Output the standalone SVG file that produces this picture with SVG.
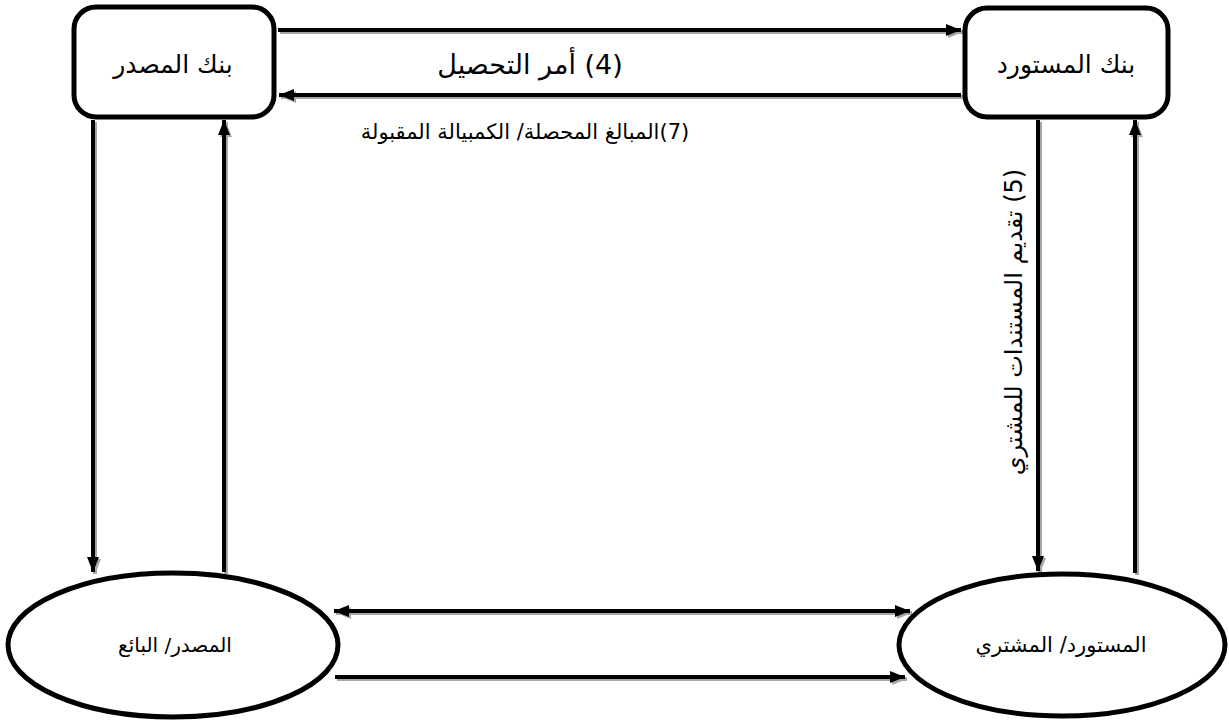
<svg xmlns="http://www.w3.org/2000/svg" width="1229" height="722" viewBox="0 0 1229 722">
  <style>
    .box { fill: #fff; stroke: #000; stroke-width: 5; }
    .lbl { font-family: "DejaVu Sans", "Liberation Serif", serif; font-size: 19px; fill: #000; text-anchor: middle; direction: rtl; unicode-bidi: embed; }
    .ln { stroke: #000; stroke-width: 4; fill: none; }
    .sh { stroke: #a6a6a6; stroke-width: 4; fill: none; }
  </style>
  <defs>
    <marker id="ah" viewBox="0 0 15 12" refX="15" refY="6" markerWidth="15" markerHeight="12" markerUnits="userSpaceOnUse" orient="auto-start-reverse">
      <path d="M0,0 L15,6 L0,12 Z" fill="#000"/>
    </marker>
    <marker id="ahs" viewBox="0 0 15 12" refX="15" refY="6" markerWidth="15" markerHeight="12" markerUnits="userSpaceOnUse" orient="auto-start-reverse">
      <path d="M0,0 L15,6 L0,12 Z" fill="#a6a6a6"/>
    </marker>
  </defs>
  <rect width="1229" height="722" fill="#fff"/>

  <!-- connectors: soft shadow copies first, then the black lines -->
  <g id="connectors">
    <g transform="translate(2,2)">
      <line class="sh" x1="278" y1="30" x2="961" y2="30" marker-end="url(#ahs)"/>
      <line class="sh" x1="961" y1="95" x2="279" y2="95" marker-end="url(#ahs)"/>
      <line class="sh" x1="93" y1="120" x2="93" y2="572" marker-end="url(#ahs)"/>
      <line class="sh" x1="224" y1="572" x2="224" y2="120" marker-end="url(#ahs)"/>
      <line class="sh" x1="1038" y1="120" x2="1038" y2="571" marker-end="url(#ahs)"/>
      <line class="sh" x1="1135" y1="573" x2="1135" y2="120" marker-end="url(#ahs)"/>
      <line class="sh" x1="334" y1="611" x2="910" y2="611" marker-start="url(#ahs)" marker-end="url(#ahs)"/>
      <line class="sh" x1="335" y1="677" x2="905" y2="677" marker-end="url(#ahs)"/>
    </g>
    <line class="ln" x1="278" y1="30" x2="961" y2="30" marker-end="url(#ah)"/>
    <line class="ln" x1="961" y1="95" x2="279" y2="95" marker-end="url(#ah)"/>
    <line class="ln" x1="93" y1="120" x2="93" y2="572" marker-end="url(#ah)"/>
    <line class="ln" x1="224" y1="572" x2="224" y2="120" marker-end="url(#ah)"/>
    <line class="ln" x1="1038" y1="120" x2="1038" y2="571" marker-end="url(#ah)"/>
    <line class="ln" x1="1135" y1="573" x2="1135" y2="120" marker-end="url(#ah)"/>
    <line class="ln" x1="334" y1="611" x2="910" y2="611" marker-start="url(#ah)" marker-end="url(#ah)"/>
    <line class="ln" x1="335" y1="677" x2="905" y2="677" marker-end="url(#ah)"/>

    <text class="lbl" x="530" y="74" style="font-size:27px">(4) أمر التحصيل</text>
    <text class="lbl" x="525" y="139" style="font-size:21px">(7)المبالغ المحصلة/ الكمبيالة المقبولة</text>
    <text class="lbl" transform="translate(1022,322) rotate(-90)" x="0" y="0" style="font-size:24px">(5) تقديم المستندات للمشتري</text>
  </g>

  <g id="exporter-bank">
    <rect class="box" x="74" y="7" width="200" height="110" rx="22" ry="22"/>
    <text class="lbl" x="173" y="73" style="font-size:25px">بنك المصدر</text>
  </g>

  <g id="importer-bank">
    <rect class="box" x="965" y="8" width="203" height="109" rx="22" ry="22"/>
    <text class="lbl" x="1066" y="73" style="font-size:25px">بنك المستورد</text>
  </g>

  <g id="exporter-seller">
    <ellipse class="box" cx="173" cy="645" rx="165" ry="72"/>
    <text class="lbl" x="175" y="652" style="font-size:20px">المصدر/ البائع</text>
  </g>

  <g id="importer-buyer">
    <ellipse class="box" cx="1062" cy="645" rx="163" ry="71"/>
    <text class="lbl" x="1061" y="652" style="font-size:21px">المستورد/ المشتري</text>
  </g>
</svg>
